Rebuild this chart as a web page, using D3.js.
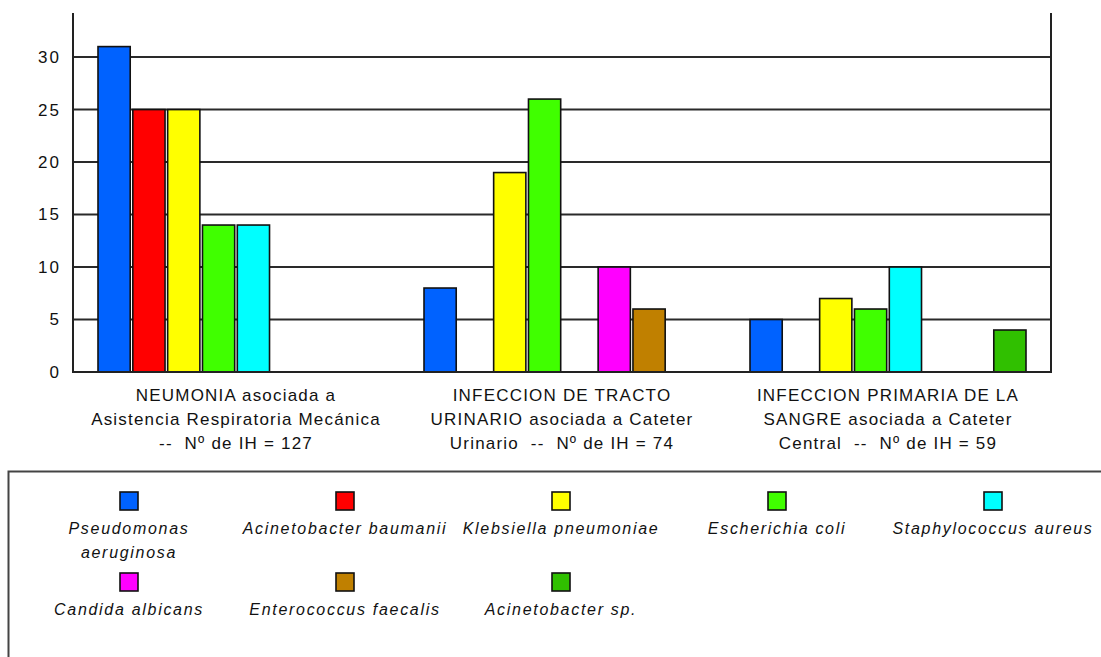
<!DOCTYPE html>
<html>
<head>
<meta charset="utf-8">
<script src="https://cdn.jsdelivr.net/npm/d3@7"></script>
<style>
  html, body { margin: 0; padding: 0; background: #fff; }
  svg { display: block; }
  text { font-family: "Liberation Sans", Arial, sans-serif; fill: #111; }
</style>
</head>
<body>
<svg id="chart" width="1101" height="657"></svg>
<script>
// Infection categories (three text lines each, shown under the groups)
const categories = ["NEUMONIA", "ITU", "IPS"];
const categoryLines = [
  ["NEUMONIA asociada a", "Asistencia Respiratoria Mecánica", "--  Nº de IH = 127"],
  ["INFECCION DE TRACTO", "URINARIO asociada a Cateter", "Urinario  --  Nº de IH = 74"],
  ["INFECCION PRIMARIA DE LA", "SANGRE asociada a Cateter", "Central  --  Nº de IH = 59"]
];

// Microorganisms, in plotting order
const organisms = [
  "Pseudomonas aeruginosa",
  "Acinetobacter baumanii",
  "Klebsiella pneumoniae",
  "Escherichia coli",
  "Staphylococcus aureus",
  "Candida albicans",
  "Enterococcus faecalis",
  "Acinetobacter sp."
];
const organismColors = ["#0062FF", "#FF0000", "#FFFF00", "#40FF00", "#00FFFF", "#FF00FF", "#C08000", "#30C000"];

// Isolates per organism, one value per category (null = not reported)
const pseudomonas   = [31, 8, 5];
const acinetoBaum   = [25, null, null];
const klebsiella    = [25, 19, 7];
const ecoli         = [14, 26, 6];
const staphAureus   = [14, null, 10];
const candida       = [null, 10, null];
const enterococcus  = [null, 6, null];
const acinetoSp     = [null, null, 4];
const seriesValues = [pseudomonas, acinetoBaum, klebsiella, ecoli, staphAureus, candida, enterococcus, acinetoSp];

const yTicks = [0, 5, 10, 15, 20, 25, 30];

const svg = d3.select("#chart");
const plot = { left: 73, right: 1051, top: 13, bottom: 372 };

const x0 = d3.scaleBand().domain(categories).range([plot.left, plot.right]).padding(0);
const x1 = d3.scaleBand().domain(organisms).range([25, x0.bandwidth() - 25]).paddingInner(0.075).paddingOuter(0);
const y = d3.scaleLinear().domain([0, 34.2]).range([plot.bottom, plot.top]);

// Horizontal gridlines
svg.append("g")
  .selectAll("line")
  .data(yTicks.filter(t => t > 0))
  .join("line")
  .attr("x1", plot.left).attr("x2", plot.right)
  .attr("y1", d => y(d)).attr("y2", d => y(d))
  .attr("stroke", "#2a2a2a").attr("stroke-width", 2);

// Y axis labels
const yAxis = d3.axisLeft(y).tickValues(yTicks).tickSize(0).tickPadding(12);
const gy = svg.append("g").attr("transform", `translate(${plot.left},0)`).call(yAxis);
gy.select(".domain").remove();
gy.selectAll("text")
  .style("font-family", "'Liberation Sans', Arial, sans-serif")
  .style("font-size", "17px")
  .style("letter-spacing", "2px")
  .attr("fill", "#111");

// Bars
const groups = svg.append("g")
  .selectAll("g")
  .data(categories)
  .join("g")
  .attr("transform", d => `translate(${x0(d)},0)`);

groups.selectAll("rect")
  .data((c, ci) => organisms.map((o, oi) => ({ org: o, color: organismColors[oi], value: seriesValues[oi][ci] }))
    .filter(d => d.value != null))
  .join("rect")
  .attr("x", d => x1(d.org))
  .attr("width", x1.bandwidth())
  .attr("y", d => y(d.value))
  .attr("height", d => y(0) - y(d.value))
  .attr("fill", d => d.color)
  .attr("stroke", "#111")
  .attr("stroke-width", 1.6);

// Frame: left, right and bottom lines
svg.append("path")
  .attr("d", `M${plot.left},${plot.top}V${plot.bottom}H${plot.right}V${plot.top}`)
  .attr("fill", "none")
  .attr("stroke", "#222")
  .attr("stroke-width", 2);

// Category labels
const catLabels = svg.append("g")
  .selectAll("text")
  .data(categories)
  .join("text")
  .attr("text-anchor", "middle")
  .attr("x", d => x0(d) + x0.bandwidth() / 2)
  .attr("y", 401)
  .style("font-size", "17px")
  .style("letter-spacing", "1.2px")
  .style("white-space", "pre");
catLabels.selectAll("tspan")
  .data((d, i) => categoryLines[i])
  .join("tspan")
  .attr("x", function () { return d3.select(this.parentNode).attr("x"); })
  .attr("dy", (d, i) => i === 0 ? 0 : 24)
  .text(d => d);

// Legend
svg.append("rect")
  .attr("x", 8.5).attr("y", 471.5)
  .attr("width", 1200).attr("height", 300)
  .attr("fill", "none")
  .attr("stroke", "#444")
  .attr("stroke-width", 2);

const legCol = d3.scaleBand().domain(d3.range(5)).range([21, 1101]);
const legRowTop = [492, 573];
const swatch = 18;

const items = svg.append("g")
  .selectAll("g")
  .data(organisms)
  .join("g")
  .attr("transform", (d, i) => `translate(${legCol(i % 5) + legCol.bandwidth() / 2},${legRowTop[Math.floor(i / 5)]})`);

items.append("rect")
  .attr("x", -swatch / 2).attr("y", 0)
  .attr("width", swatch).attr("height", swatch)
  .attr("fill", (d, i) => organismColors[i])
  .attr("stroke", "#111")
  .attr("stroke-width", 1.6);

items.append("text")
  .attr("text-anchor", "middle")
  .attr("y", 42)
  .style("font-size", "16px")
  .style("font-style", "italic")
  .style("letter-spacing", "1.7px")
  .each(function (d) {
    const t = d3.select(this);
    const words = d.split(" ");
    let line = [];
    let tspan = t.append("tspan").attr("x", 0).attr("dy", 0);
    let lineNo = 0;
    words.forEach(w => {
      line.push(w);
      tspan.text(line.join(" "));
      if (tspan.node().getComputedTextLength() > 212 && line.length > 1) {
        line.pop();
        tspan.text(line.join(" "));
        line = [w];
        lineNo++;
        tspan = t.append("tspan").attr("x", 0).attr("dy", 24).text(w);
      }
    });
  });
</script>
</body>
</html>
